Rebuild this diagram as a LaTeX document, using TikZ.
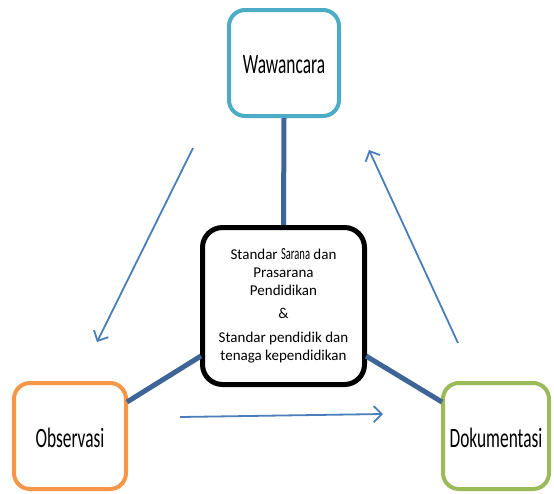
\documentclass[tikz,border=0pt]{standalone}
\usepackage{fontspec}
\usetikzlibrary{arrows.meta}
\setmainfont{Carlito}
\newfontfamily\condfont[FakeStretch=0.62]{Carlito}
\definecolor{wcol}{HTML}{4BACC6}
\definecolor{ocol}{HTML}{F79646}
\definecolor{dcol}{HTML}{9BBB59}
\definecolor{lcol}{HTML}{3F6598}
\definecolor{acol}{HTML}{4A7EBB}
\begin{document}
\begin{tikzpicture}[x=1pt,y=-1pt,
  sidebox/.style={draw, line width=4pt, rounded corners=16pt, fill=white, minimum width=110pt, minimum height=106pt, inner sep=0pt, text depth=0pt, font=\condfont\fontsize{28}{30}\selectfont},
  centerbox/.style={draw=black, line width=5pt, rounded corners=20pt, fill=white, minimum width=162pt, minimum height=157pt, inner sep=0pt, align=center, font=\fontsize{15}{18}\selectfont},
  link/.style={draw=lcol, line width=5pt},
  flow/.style={draw=acol, line width=1.8pt, -{Straight Barb[length=8pt,width=16pt]}}]
\useasboundingbox (0,0) rectangle (554,493);
\node[sidebox, draw=wcol] (w) at (284,63) {\raisebox{-4pt}{Wawancara}};
\node[sidebox, draw=ocol, minimum width=112pt, minimum height=106pt] (o) at (70,436) {\raisebox{-4pt}{Observasi}};
\node[sidebox, draw=dcol, minimum width=106pt, minimum height=106pt] (d) at (496,436) {\raisebox{-3pt}{Dokumentasi}};
\node[centerbox] (c) at (283.5,306) {Standar {\condfont\fontsize{17}{18}\selectfont Sarana} dan\\Prasarana\\Pendidikan\\[5pt]\&\\[6pt]Standar pendidik dan\\tenaga kependidikan};
\coordinate (oa) at (127,402);
\coordinate (ca) at (201,356);
\coordinate (cb) at (366,356);
\coordinate (da) at (442,402);
\path[link] (w.south) -- (c.north);
\path[link] (oa) -- (ca);
\path[link] (cb) -- (da);
\coordinate (a1s) at (193,148);
\coordinate (a1e) at (97,342);
\coordinate (a2s) at (458,343);
\coordinate (a2e) at (369,150);
\coordinate (a3s) at (180,417);
\coordinate (a3e) at (383,414);
\path[flow] (a1s) -- (a1e);
\path[flow] (a2s) -- (a2e);
\path[flow] (a3s) -- (a3e);
\end{tikzpicture}
\end{document}
